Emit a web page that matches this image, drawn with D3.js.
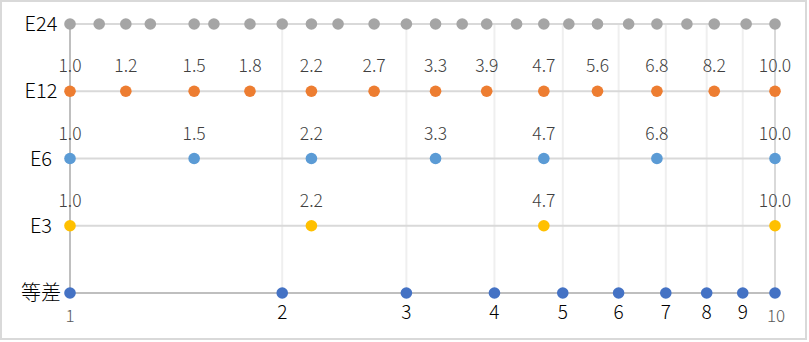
<!DOCTYPE html>
<html>
<head>
<meta charset="utf-8">
<script src="https://cdn.jsdelivr.net/npm/d3@7"></script>
<style>
  html, body { margin: 0; padding: 0; background: #ffffff; }
  svg { display: block; }
  text { font-family: "Noto Sans CJK JP", "Noto Sans", sans-serif; font-weight: 300; }
</style>
</head>
<body>
<svg id="chart" width="809" height="342"></svg>
<script>
// ---- data ----
const rowNames = ["等差", "E3", "E6", "E12", "E24"];
const seriesArith = [1, 2, 3, 4, 5, 6, 7, 8, 9, 10];
const seriesE3 = [1.0, 2.2, 4.7, 10.0];
const seriesE6 = [1.0, 1.5, 2.2, 3.3, 4.7, 6.8, 10.0];
const seriesE12 = [1.0, 1.2, 1.5, 1.8, 2.2, 2.7, 3.3, 3.9, 4.7, 5.6, 6.8, 8.2, 10.0];
const seriesE24 = [1.0, 1.1, 1.2, 1.3, 1.5, 1.6, 1.8, 2.0, 2.2, 2.4, 2.7, 3.0, 3.3, 3.6, 3.9, 4.3, 4.7, 5.1, 5.6, 6.2, 6.8, 7.5, 8.2, 9.1, 10.0];
const xTickValues = [1, 10];
const minorGridValues = [2, 3, 4, 5, 6, 7, 8, 9];

const series = [
  { name: "等差", values: seriesArith, color: "#4472c4", labels: "below" },
  { name: "E3", values: seriesE3, color: "#ffc000", labels: "above" },
  { name: "E6", values: seriesE6, color: "#5b9bd5", labels: "above" },
  { name: "E12", values: seriesE12, color: "#ed7d31", labels: "above" },
  { name: "E24", values: seriesE24, color: "#a5a5a5", labels: "none" }
];

const svg = d3.select("#chart");

// chart border
svg.append("rect")
  .attr("x", 1).attr("y", 1).attr("width", 805).attr("height", 338)
  .attr("fill", "#ffffff").attr("stroke", "#d9d9d9").attr("stroke-width", 2);

const x = d3.scaleLog().domain([1, 10]).range([70, 775]);
const y = d3.scaleLinear().domain([0, rowNames.length - 1]).range([293, 24]);
const [yBottom, yTop] = y.range();

// minor vertical gridlines
svg.append("g").selectAll("line").data(minorGridValues).join("line")
  .attr("x1", d => x(d)).attr("x2", d => x(d))
  .attr("y1", yTop).attr("y2", yBottom)
  .attr("stroke", "#efefef").attr("stroke-width", 2);

// major vertical gridline at 10
svg.append("line")
  .attr("x1", x(10)).attr("x2", x(10)).attr("y1", yTop).attr("y2", yBottom)
  .attr("stroke", "#d9d9d9").attr("stroke-width", 2);

// series lines
const line = d3.line().x(d => x(d.v)).y(d => d.y);
series.forEach(s => {
  const pts = s.values.map(v => ({ v, y: y(rowNames.indexOf(s.name)) }));
  svg.append("path").datum(pts)
    .attr("d", line)
    .attr("fill", "none")
    .attr("stroke", "#d9d9d9").attr("stroke-width", 2);
});

// x axis line (y = 0) and y axis line (x = 1)
svg.append("line")
  .attr("x1", x(1)).attr("x2", x(10)).attr("y1", y(0)).attr("y2", y(0))
  .attr("stroke", "#bfbfbf").attr("stroke-width", 2);
svg.append("line")
  .attr("x1", x(1)).attr("x2", x(1)).attr("y1", yTop).attr("y2", yBottom)
  .attr("stroke", "#bfbfbf").attr("stroke-width", 2);

// x axis tick labels (1, 10)
svg.append("g").selectAll("text").data(xTickValues).join("text")
  .attr("x", d => x(d) + (d === 10 ? 1 : 0)).attr("y", y(0) + 29)
  .attr("text-anchor", "middle")
  .attr("font-size", 17).attr("fill", "#595959")
  .text(d => d);

// markers
series.forEach(s => {
  const yy = y(rowNames.indexOf(s.name));
  svg.append("g").selectAll("circle").data(s.values).join("circle")
    .attr("cx", d => x(d)).attr("cy", yy).attr("r", 5.8)
    .attr("fill", s.color);
});

// data labels
series.forEach(s => {
  const yy = y(rowNames.indexOf(s.name));
  if (s.labels === "above") {
    svg.append("g").selectAll("text").data(s.values).join("text")
      .attr("x", d => x(d)).attr("y", yy - 19)
      .attr("text-anchor", "middle")
      .attr("font-size", 17.5).attr("fill", "#404040")
      .text(d => d.toFixed(1));
  } else if (s.labels === "below") {
    svg.append("g").selectAll("text").data(s.values.filter(v => v !== 1 && v !== 10)).join("text")
      .attr("x", d => x(d)).attr("y", yy + 26)
      .attr("text-anchor", "middle")
      .attr("font-size", 19).attr("fill", "#000000")
      .text(d => d);
  }
});

// row labels
svg.append("g").selectAll("text").data(rowNames).join("text")
  .attr("x", 41).attr("y", (d, i) => y(i))
  .attr("dy", "0.36em")
  .attr("text-anchor", "middle")
  .attr("font-size", 20).attr("fill", "#000000")
  .text(d => d);
</script>
</body>
</html>
